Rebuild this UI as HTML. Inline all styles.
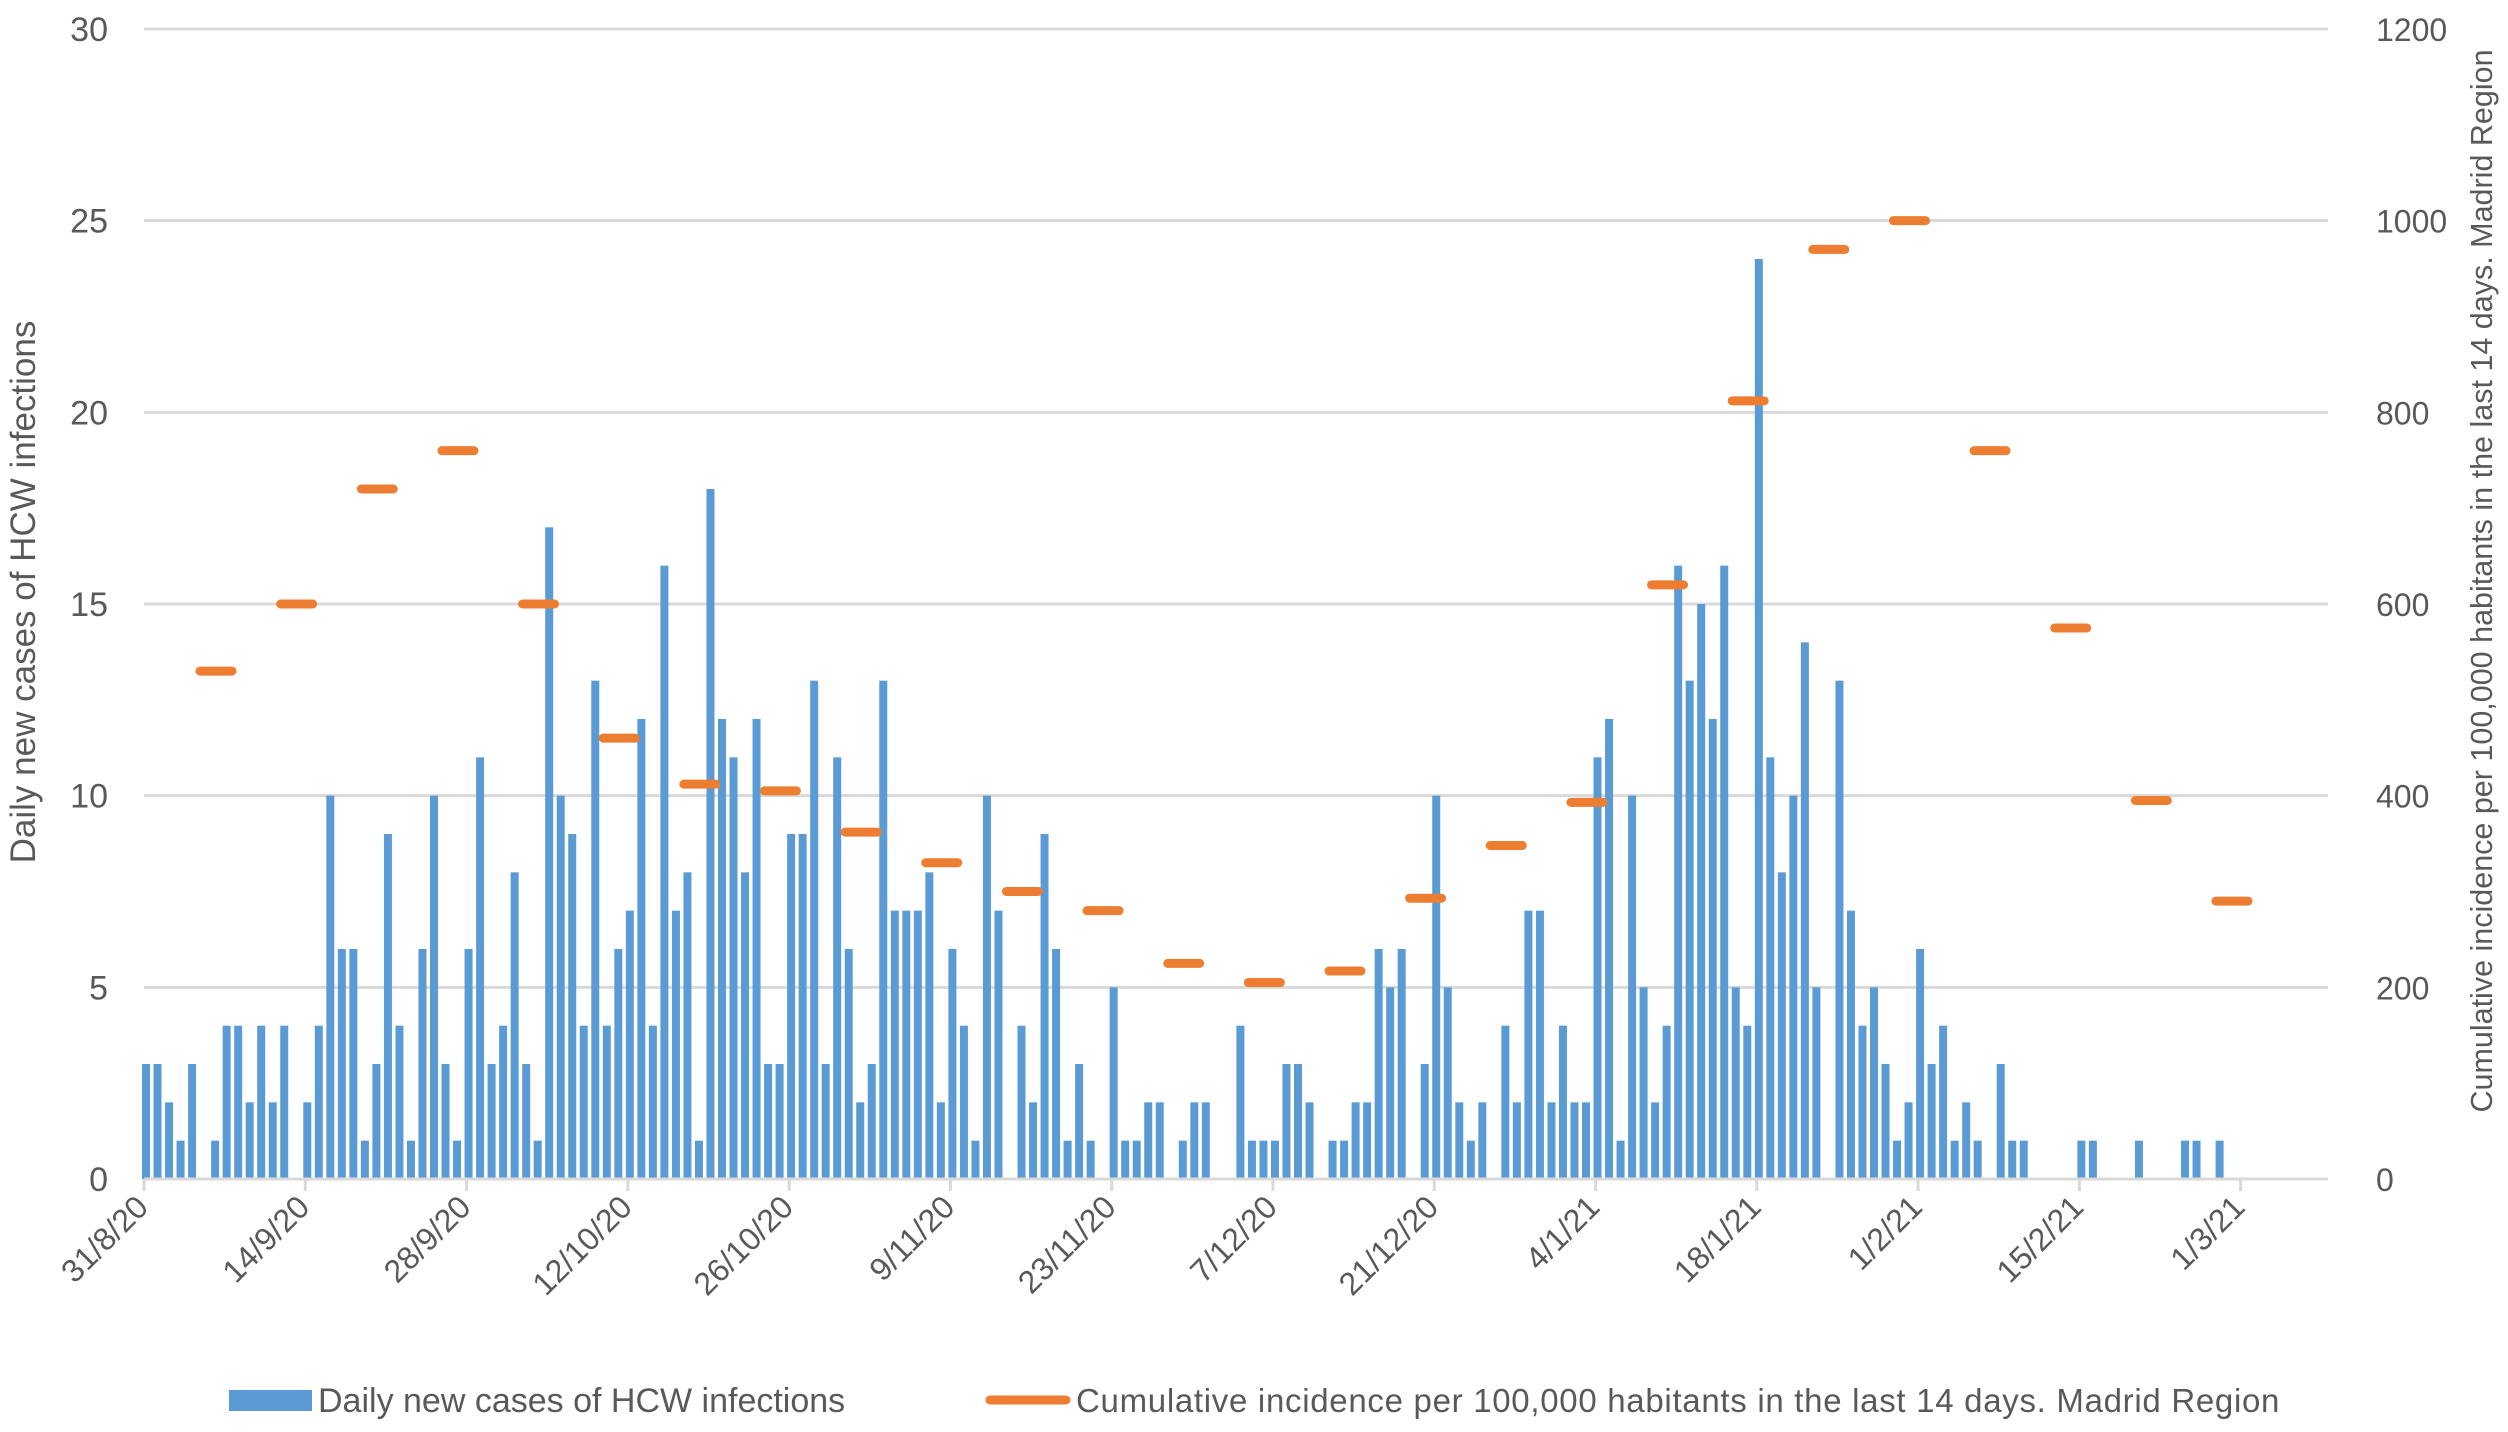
<!DOCTYPE html>
<html><head><meta charset="utf-8"><style>
html,body{margin:0;padding:0;background:#fff;}
svg{display:block;font-family:"Liberation Sans",sans-serif;}
</style></head><body>
<svg id="chart" width="2508" height="1432" viewBox="0 0 2508 1432" xmlns="http://www.w3.org/2000/svg">
<g id="grid"></g>
<g id="bars"></g>
<g id="dashes"></g>
<g id="axes"></g>
<text transform="translate(35,592) rotate(-90)" text-anchor="middle" font-size="35" fill="#595959">Daily new cases of HCW infections</text>
<text transform="translate(2492,581) rotate(-90)" text-anchor="middle" font-size="30.5" fill="#595959">Cumulative incidence per 100,000 habitants in the last 14 days. Madrid Region</text>
<g>
<rect x="229" y="1390" width="83" height="21" fill="#5b9bd5"/>
<text x="318" y="1412" font-size="34" fill="#595959">Daily new cases of HCW infections</text>
<line x1="990" y1="1400" x2="1066" y2="1400" stroke="#ed7d31" stroke-width="9" stroke-linecap="round"/>
<text x="1076" y="1412" font-size="33" fill="#595959" letter-spacing="0.7">Cumulative incidence per 100,000 habitants in the last 14 days. Madrid Region</text>
</g>
</svg>
<script>
const dailyCases = [3,3,2,1,3,0,1,4,4,2,4,2,4,0,2,4,10,6,6,1,3,9,4,1,6,10,3,1,6,11,3,4,8,3,1,17,10,9,4,13,4,6,7,12,4,16,7,8,1,18,12,11,8,12,3,3,9,9,13,3,11,6,2,3,13,7,7,7,8,2,6,4,1,10,7,0,4,2,9,6,1,3,1,0,5,1,1,2,2,0,1,2,2,0,0,4,1,1,1,3,3,2,0,1,1,2,2,6,5,6,0,3,10,5,2,1,2,0,4,2,7,7,2,4,2,2,11,12,1,10,5,2,4,16,13,15,12,16,5,4,24,11,8,10,14,5,0,13,7,4,5,3,1,2,6,3,4,1,2,1,0,3,1,1,0,0,0,0,1,1,0,0,0,1,0,0,0,1,1,0,1,0,0];
const incidence = [530,600,720,760,600,460,412,405,362,330,300,280,225,205,217,293,348,393,620,812,970,1000,760,575,395,290];
const leftTicks = [0,5,10,15,20,25,30];
const rightTicks = [0,200,400,600,800,1000,1200];
const dateLabels = ["31/8/20","14/9/20","28/9/20","12/10/20","26/10/20","9/11/20","23/11/20","7/12/20","21/12/20","4/1/21","18/1/21","1/2/21","15/2/21","1/3/21"];

const NS="http://www.w3.org/2000/svg";
const X0=144, DAY=11.52, Y0=1179, YTOP=29, XEND=2328;
const xDay = d => X0 + 2 + d*DAY;
const yL = v => Y0 - (v/30)*(Y0-YTOP);
const yR = v => Y0 - (v/1200)*(Y0-YTOP);
function mk(tag, attrs, parent){const e=document.createElementNS(NS,tag);for(const k in attrs)e.setAttribute(k,attrs[k]);parent.appendChild(e);return e;}
const grid=document.getElementById('grid'), bars=document.getElementById('bars'), dashes=document.getElementById('dashes'), axes=document.getElementById('axes');

leftTicks.forEach((t,i)=>{
  const y=yL(t);
  if(t>0){const g=mk('line',{x1:X0,x2:XEND,y1:y,y2:y,stroke:'#d9d9d9','stroke-width':3},grid);
  
  }
  const tx=mk('text',{x:108,y:y+12,'text-anchor':'end','font-size':34,fill:'#595959'},axes);
  tx.textContent=t;
  
  
});
rightTicks.forEach(t=>{
  const tx=mk('text',{x:2376,y:yR(t)+12,'text-anchor':'start','font-size':32,fill:'#595959'},axes);
  tx.textContent=t;
  
  
});
dailyCases.forEach((v,d)=>{
  if(v<=0) return;
  const r=mk('rect',{x:xDay(d)-4,y:yL(v),width:8,height:Y0-yL(v),fill:'#5b9bd5'},bars);
  
  
});
incidence.forEach((v,k)=>{
  const c=xDay(6.25+7*k)-2;
  const l=mk('line',{x1:c-16,x2:c+16,y1:yR(v),y2:yR(v),stroke:'#ed7d31','stroke-width':9,'stroke-linecap':'round'},dashes);
  
  
});
const ax=mk('line',{x1:X0,x2:XEND,y1:Y0,y2:Y0,stroke:'#d9d9d9','stroke-width':3},axes);


dateLabels.forEach((s,k)=>{
  const x=X0+k*14*DAY;
  const tk=mk('line',{x1:x,x2:x,y1:Y0,y2:Y0+12,stroke:'#d9d9d9','stroke-width':3},axes);
  
  
  const tx=mk('text',{transform:`translate(${x+6},${Y0+30}) rotate(-45)`,'text-anchor':'end','font-size':32,fill:'#595959'},axes);
  tx.textContent=s;
  
  
});
</script>
</body></html>
